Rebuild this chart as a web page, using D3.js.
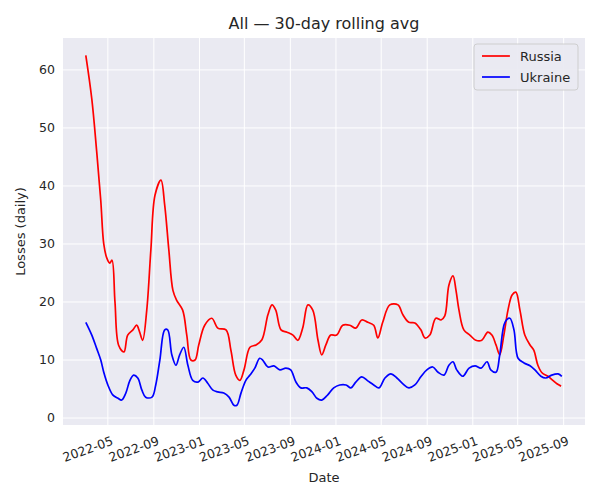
<!DOCTYPE html><html><head><meta charset="utf-8"><script src="https://cdn.jsdelivr.net/npm/d3@7"></script>
<style>body{margin:0;background:#fff}</style></head><body><svg id="c" width="600" height="500"></svg><script>
const startDate = "2022-03-03";
const ruDays=[0,16,29,40,48,56,64,70,78,88,102,112,126,136,144,152,163,174,185,201,211,222,233,243,259,270,281,292,302,318,337,353,375,388,401,412,423,439,455,471,487,498,508,522,538,554,567,580,594,607,621,631,642,655,671,687,706,722,738,754,770,781,794,813,835,848,864,880,896,907,920,936,950,960,971,982,990,998,1011,1027,1043,1059,1075,1086,1097,1107,1118,1129,1140,1150,1161,1174,1188,1198,1209,1220,1236,1249,1260,1271];
const ruVals=[62.5,55,46,37.5,30,27.6,26.7,27.2,20,12.5,11.4,14.3,15.2,16,14.8,13.4,18.6,29,38.4,41,36.7,29,22,20.3,18.6,14.3,10,10,12.6,16,17.2,15.5,15.2,11.7,7.4,6.5,8.3,12.2,12.6,13.5,17.8,19.5,18.6,15.2,14.8,14.3,13.4,15.5,19.5,18.6,13.4,10.9,12.6,14.3,14.3,16,16,15.5,16.9,16.5,16,13.8,16.5,19.5,19.5,17.8,16.5,16.4,15.2,13.8,14.3,17.2,16.9,17.6,22.9,24.5,22,18.6,15.2,14.3,13.4,13.4,14.8,14.3,12.6,10.9,14.3,18.6,21.2,21.7,18.6,14.3,12.6,11.7,9.1,7.8,7.2,6.5,5.9,5.5];
const uaDays=[0,16,29,40,48,59,72,86,96,107,118,128,139,150,160,177,187,198,211,219,230,241,251,262,273,286,300,313,326,340,353,369,383,396,404,415,428,439,452,465,473,487,503,519,535,548,562,575,591,605,618,631,647,663,679,696,709,722,738,754,770,784,800,816,832,848,864,880,896,912,928,942,958,971,982,992,1008,1025,1041,1057,1073,1083,1097,1107,1121,1134,1145,1156,1172,1188,1201,1217,1230,1246,1263,1273];
const uaVals=[16.5,14.3,12,10,7.9,5.7,4,3.4,3.1,4.3,6.5,7.4,6.9,4.8,3.6,3.6,5.7,10,15.2,15.2,10.9,9.1,10.9,12.2,9.1,6.5,6.2,6.9,6,4.8,4.5,4.3,3.6,2.2,2.2,4.3,6.5,7.4,8.6,10.3,10,8.8,9,8.3,8.6,8.3,6.2,5.2,5.2,4.5,3.4,3.1,4,5.2,5.7,5.7,5.2,6.2,7.1,6.4,5.7,5.2,6.9,7.6,6.9,5.9,5.2,5.7,7.1,8.3,8.8,7.9,7.4,9.1,9.7,8.3,7.2,8.6,9,8.6,9.7,8.3,7.9,10.9,16.5,17.2,15.2,10.3,9.5,9,8.3,7.2,6.9,7.4,7.6,7.2];
const yTicks=[0,10,20,30,40,50,60];
const series=[{name:"Russia",color:"red",days:ruDays,vals:ruVals},{name:"Ukraine",color:"blue",days:uaDays,vals:uaVals}];
const svg=d3.select("#c");
const L=63,R=585,T=38,B=425;
const s0=d3.isoParse(startDate);
const x=d3.scaleTime().domain([d3.timeDay.offset(s0,-61),d3.timeDay.offset(s0,1335)]).range([L,R]);
const y=d3.scaleLinear().domain([-1.2,65.5]).range([B,T]);
svg.append("rect").attr("x",L).attr("y",T).attr("width",R-L).attr("height",B-T).attr("fill","#eaeaf2");
const xt=d3.timeMonth.every(4).range(new Date(2022,4,1),new Date(2025,9,2));
const g=svg.append("g");
g.selectAll(".vx").data(xt).join("line").attr("x1",d=>x(d)).attr("x2",d=>x(d)).attr("y1",T).attr("y2",B).attr("stroke","#fff").attr("stroke-width",1);
g.selectAll(".hy").data(yTicks).join("line").attr("y1",d=>y(d)).attr("y2",d=>y(d)).attr("x1",L).attr("x2",R).attr("stroke","#fff");
const ff="DejaVu Sans";
svg.selectAll(".yl").data(yTicks).join("text").attr("x",L-8).attr("y",d=>y(d)).attr("dy","0.35em").attr("text-anchor","end").attr("font-family",ff).attr("font-size",12.5).attr("fill","#262626").text(d=>d);
svg.selectAll(".xl").data(xt).join("text").attr("transform",d=>`translate(${x(d)+3},${B+11}) rotate(-20)`).attr("text-anchor","end").attr("dy","0.7em").attr("font-family",ff).attr("font-size",12.5).attr("fill","#262626").text(d3.timeFormat("%Y-%m"));
const line=d3.line().curve(d3.curveCatmullRom.alpha(0.5));
series.forEach(s=>{
  const pts=s.days.map((d,i)=>[x(d3.timeDay.offset(s0,d)),y(s.vals[i])]);
  svg.append("path").attr("d",line(pts)).attr("fill","none").attr("stroke",s.color).attr("stroke-width",1.7);
});
svg.append("text").attr("x",(L+R)/2).attr("y",29).attr("text-anchor","middle").attr("font-family",ff).attr("font-size",16).attr("fill","#262626").text("All — 30-day rolling avg");
svg.append("text").attr("x",(L+R)/2).attr("y",482).attr("text-anchor","middle").attr("font-family",ff).attr("font-size",13).attr("fill","#262626").text("Date");
svg.append("text").attr("transform",`translate(25,${(T+B)/2}) rotate(-90)`).attr("text-anchor","middle").attr("font-family",ff).attr("font-size",13).attr("fill","#262626").text("Losses (daily)");
const lg=svg.append("g").attr("transform","translate(474,44)");
lg.append("rect").attr("width",104).attr("height",46).attr("rx",3).attr("fill","#eaeaf2").attr("stroke","#ccc").attr("opacity",0.9);
series.forEach((s,i)=>{
  lg.append("line").attr("x1",8).attr("x2",36).attr("y1",12+i*21).attr("y2",12+i*21).attr("stroke",s.color).attr("stroke-width",1.7);
  lg.append("text").attr("x",46).attr("y",12+i*21).attr("dy","0.35em").attr("font-family",ff).attr("font-size",13).attr("fill","#262626").text(s.name);
});
</script></body></html>
